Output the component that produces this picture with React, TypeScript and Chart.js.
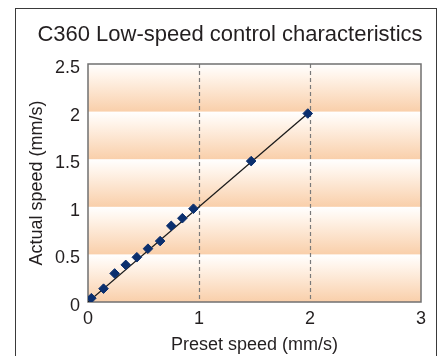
import React, { useEffect, useRef } from "react";
import { Chart, registerables } from "chart.js";

Chart.register(...registerables);

const titleText = "C360 Low-speed control characteristics";
const xTitle = "Preset speed (mm/s)";
const yTitle = "Actual speed (mm/s)";
const presetSpeed = [0.03, 0.14, 0.24, 0.34, 0.44, 0.54, 0.65, 0.75, 0.85, 0.95, 1.47, 1.98];
const actualSpeed = [0.04, 0.14, 0.3, 0.39, 0.47, 0.56, 0.64, 0.8, 0.88, 0.98, 1.48, 1.98];
const fitLineX = [0, 1.98];
const fitLineY = [0, 1.98];
const xTicks = [0, 1, 2, 3];
const yTicks = [0, 0.5, 1, 1.5, 2, 2.5];

const FONT = "'Liberation Sans', Arial, sans-serif";

const decor = {
  id: "decor",
  beforeDatasetsDraw(chart: any) {
    const { ctx, chartArea } = chart;
    const y = chart.scales.y;
    const x = chart.scales.x;
    ctx.save();
    for (let i = 0; i < yTicks.length - 1; i++) {
      const top = y.getPixelForValue(yTicks[i + 1]);
      const bot = y.getPixelForValue(yTicks[i]);
      const g = ctx.createLinearGradient(0, top, 0, bot);
      g.addColorStop(0, "#ffffff");
      g.addColorStop(0.25, "#fff4ea");
      g.addColorStop(1, "#f9cfaa");
      ctx.fillStyle = g;
      ctx.fillRect(chartArea.left, top, chartArea.right - chartArea.left, bot - top);
    }
    ctx.strokeStyle = "#7a7a7a";
    ctx.lineWidth = 1.2;
    ctx.setLineDash([4, 3]);
    [1, 2].forEach((v) => {
      const px = Math.round(x.getPixelForValue(v)) + 0.5;
      ctx.beginPath();
      ctx.moveTo(px, chartArea.top);
      ctx.lineTo(px, chartArea.bottom);
      ctx.stroke();
    });
    ctx.setLineDash([]);
    ctx.strokeStyle = "#707070";
    ctx.lineWidth = 1.5;
    ctx.strokeRect(chartArea.left, chartArea.top, chartArea.right - chartArea.left, chartArea.bottom - chartArea.top);
    ctx.restore();
  },
  afterDraw(chart: any) {
    const { ctx, chartArea } = chart;
    ctx.save();
    ctx.fillStyle = "#231f20";
    ctx.textAlign = "center";
    ctx.textBaseline = "middle";
    ctx.font = `22px ${FONT}`;
    ctx.fillText(titleText, 230, 35);
    ctx.font = `18px ${FONT}`;
    ctx.fillText(xTitle, (chartArea.left + chartArea.right) / 2, 345);
    ctx.translate(37, (chartArea.top + chartArea.bottom) / 2);
    ctx.rotate(-Math.PI / 2);
    ctx.fillText(yTitle, 0, 0);
    ctx.restore();
  },
};

export default function App() {
  const ref = useRef<HTMLCanvasElement>(null);
  useEffect(() => {
    if (!ref.current) return;
    const chart = new Chart(ref.current, {
      type: "scatter",
      data: {
        datasets: [
          {
            type: "line",
            data: fitLineX.map((v, i) => ({ x: v, y: fitLineY[i] })),
            borderColor: "#1a1a1a",
            borderWidth: 1.3,
            pointRadius: 0,
            fill: false,
            order: 2,
          },
          {
            data: presetSpeed.map((v, i) => ({ x: v, y: actualSpeed[i] })),
            pointStyle: "rectRot",
            pointRadius: 4.8,
            backgroundColor: "#0b2f6e",
            borderColor: "#0b2f6e",
            borderWidth: 1,
            order: 1,
          } as any,
        ],
      },
      options: {
        animation: false,
        responsive: false,
        devicePixelRatio: 1,
        layout: { padding: { top: 64, right: 20, left: 0, bottom: 0 } },
        plugins: { legend: { display: false }, tooltip: { enabled: false }, title: { display: false } },
        scales: {
          x: {
            type: "linear",
            min: 0,
            max: 3,
            afterFit: (s: any) => { s.height = 54; },
            afterBuildTicks: (s: any) => { s.ticks = xTicks.map((v) => ({ value: v })); },
            grid: { display: false, drawTicks: false },
            border: { display: false },
            ticks: { color: "#231f20", font: { family: FONT, size: 18 }, padding: 6, callback: (v: any) => String(v) },
          },
          y: {
            type: "linear",
            min: 0,
            max: 2.5,
            afterFit: (s: any) => { s.width = 88; },
            afterBuildTicks: (s: any) => { s.ticks = yTicks.map((v) => ({ value: v })); },
            grid: { display: false, drawTicks: false },
            border: { display: false },
            ticks: { color: "#231f20", font: { family: FONT, size: 18 }, padding: 8, labelOffset: 4, callback: (v: any) => String(v) },
          },
        },
      },
      plugins: [decor],
    });
    return () => chart.destroy();
  }, []);
  return (
    <div style={{ position: "fixed", left: 0, top: 0, width: 441, height: 356, background: "#fff", overflow: "hidden" }}>
      <div style={{ position: "absolute", left: 15, top: 8, width: 420, height: 400, border: "1.5px solid #3a3a3a" }} />
      <canvas ref={ref} width={441} height={356} style={{ position: "absolute", left: 0, top: 0, width: 441, height: 356 }} />
    </div>
  );
}
